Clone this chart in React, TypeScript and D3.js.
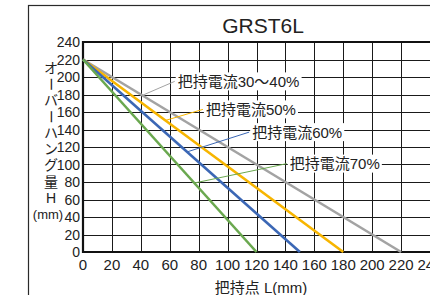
import * as d3 from 'd3'

// chart data
const title = 'GRST6L'
const seriesNames = ['把持電流30～40%', '把持電流50%', '把持電流60%', '把持電流70%']
const seriesColors = ['#a3a3a3', '#f7b500', '#3b67b5', '#6aa84f']
const startH = [220, 220, 220, 220] // H at L = 0
const endL = [220, 180, 150, 120] // L where H reaches 0
const xTicks = [0, 20, 40, 60, 80, 100, 120, 140, 160, 180, 200, 220, 240]
const yTicks = [0, 20, 40, 60, 80, 100, 120, 140, 160, 180, 200, 220, 240]
// annotation: where the leader leaves each line (L), and label anchor (L, H)
const leaderFromL = [41, 57, 72, 77]
const labelL = [65.5, 85, 117, 143]
const labelH = [195, 163, 137, 101]
const yTitleChars = ['オ', 'ー', 'バ', 'ー', 'ハ', 'ン', 'グ', '量', 'H', '(mm)']
const xTitle = '把持点 L(mm)'

const W = 430
const H = 295
const FONT = '"Liberation Sans", Arial, "Noto Sans CJK JP", sans-serif'

// snap 1px lines to the pixel grid
const crisp = (v: number) => Math.round(v) + 0.5

export default function App() {
  const x = d3.scaleLinear().domain([0, 240]).range([83, 430])
  const y = d3.scaleLinear().domain([0, 240]).range([252, 42])
  const line = d3.line<[number, number]>().x(d => x(d[0])).y(d => y(d[1]))
  const yChar = d3.scalePoint<number>().domain(yTitleChars.map((_, i) => i)).range([68, 214])

  const labelW = seriesNames.map(s => {
    // rough width: CJK glyph = 1em, others ~0.56em
    let w = 0
    for (const ch of s) w += /[\u3000-\u9fff～]/.test(ch) ? 15 : ch === '%' ? 13.3 : 8.4
    return w
  })

  return (
    <svg width={W} height={H} style={{ position: 'fixed', left: 0, top: 0, background: '#fff' }} fontFamily={FONT}>
      <rect x={0} y={0} width={W} height={H} fill="#fff" />
      {/* outer frame (runs off the picture) */}
      <rect x={28.5} y={5.5} width={W} height={H} fill="none" stroke="#2a2a2a" strokeWidth={1.2} />
      <text x={263} y={33} fontSize={21} textAnchor="middle" fill="#222">{title}</text>

      {/* grid */}
      {xTicks.map(t => (
        <line key={'gx' + t} x1={crisp(x(t))} x2={crisp(x(t))} y1={y(240)} y2={y(0)} stroke="#1a1a1a" strokeWidth={1} />
      ))}
      {yTicks.map(t => (
        <line key={'gy' + t} x1={x(0)} x2={x(240)} y1={crisp(y(t))} y2={crisp(y(t))} stroke="#1a1a1a" strokeWidth={1} />
      ))}
      {/* plot border */}
      <path d={`M${x(240)},${y(240)}H${x(0)}V${y(0)}H${x(240)}`} fill="none" stroke="#111" strokeWidth={2.2} />

      {/* series */}
      {seriesNames.map((s, i) => (
        <path key={s} d={line([[0, startH[i]], [endL[i], 0]]) ?? ''} fill="none" stroke={seriesColors[i]} strokeWidth={2.6} />
      ))}

      {/* annotations */}
      {seriesNames.map((s, i) => {
        const fromH = startH[i] * (1 - leaderFromL[i] / endL[i])
        const lx = x(labelL[i])
        const ly = y(labelH[i])
        return (
          <g key={'a' + s}>
            <line x1={x(leaderFromL[i])} y1={y(fromH)} x2={lx - 3} y2={ly} stroke={seriesColors[i]} strokeWidth={1} />
            <rect x={lx - 2} y={ly - 9} width={labelW[i] + 4} height={18} fill="#fff" />
            <text x={lx} y={ly} dy="0.36em" fontSize={15} fill="#222">{s}</text>
          </g>
        )
      })}

      {/* axis labels */}
      {yTicks.map(t => (
        <text key={'yt' + t} x={80} y={y(t)} dy="0.36em" fontSize={14} textAnchor="end" fill="#222">{t}</text>
      ))}
      {xTicks.map(t => (
        <text key={'xt' + t} x={x(t)} y={270} fontSize={15} textAnchor="middle" fill="#222">{t}</text>
      ))}
      <text x={261} y={293} fontSize={15} textAnchor="middle" fill="#222">{xTitle}</text>
      {yTitleChars.map((c, i) => {
        const cy = yChar(i) ?? 0
        const isBar = c === 'ー'
        const isUnit = c === '(mm)'
        return (
          <text
            key={'yc' + i}
            x={isUnit ? 48 : 51}
            y={cy}
            dy="0.36em"
            fontSize={isUnit ? 13 : 14}
            textAnchor="middle"
            fill="#222"
            transform={isBar ? `rotate(90 51 ${cy})` : undefined}
          >
            {c}
          </text>
        )
      })}
    </svg>
  )
}
